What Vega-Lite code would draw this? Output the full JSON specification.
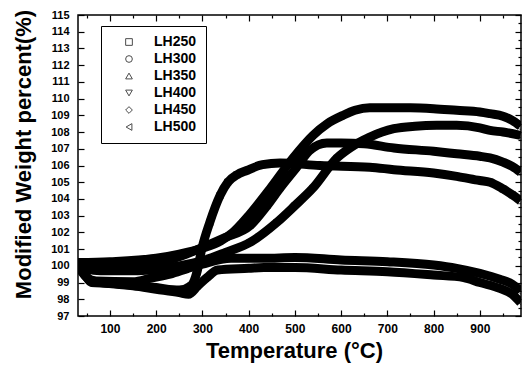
{
  "$schema": "https://vega.github.io/schema/vega-lite/v6.json",
  "width": 443,
  "height": 301,
  "autosize": {"type": "none"},
  "padding": {"left": 78, "top": 15, "right": 7, "bottom": 55},
  "background": "white",
  "config": {
    "font": "Liberation Sans",
    "view": {"stroke": "black", "strokeWidth": 1.5},
    "axis": {"grid": false, "domain": false, "labelColor": "black", "tickColor": "black", "titleColor": "black", "labelFont": "Liberation Sans", "titleFont": "Liberation Sans", "labelFontWeight": "bold", "titleFontWeight": "bold", "tickWidth": 1.2}
  },
  "data": {"values": [
    {"s":"LH250","t":31,"w":100.0},{"s":"LH250","t":45,"w":99.5},{"s":"LH250","t":60,"w":99.1},{"s":"LH250","t":80,"w":99.0},{"s":"LH250","t":150,"w":98.85},{"s":"LH250","t":200,"w":98.7},{"s":"LH250","t":250,"w":98.55},{"s":"LH250","t":275,"w":98.8},{"s":"LH250","t":288,"w":99.6},{"s":"LH250","t":299,"w":101.05},{"s":"LH250","t":316,"w":102.6},{"s":"LH250","t":338,"w":104.2},{"s":"LH250","t":355,"w":105.0},{"s":"LH250","t":375,"w":105.45},{"s":"LH250","t":396,"w":105.7},{"s":"LH250","t":430,"w":106.05},{"s":"LH250","t":468,"w":106.15},{"s":"LH250","t":554,"w":106.0},{"s":"LH250","t":662,"w":105.9},{"s":"LH250","t":714,"w":105.75},{"s":"LH250","t":800,"w":105.55},{"s":"LH250","t":850,"w":105.35},{"s":"LH250","t":900,"w":105.1},{"s":"LH250","t":922,"w":105.0},{"s":"LH250","t":950,"w":104.6},{"s":"LH250","t":970,"w":104.25},{"s":"LH250","t":988,"w":103.9},
    {"s":"LH300","t":31,"w":100.2},{"s":"LH300","t":100,"w":100.25},{"s":"LH300","t":200,"w":100.45},{"s":"LH300","t":250,"w":100.7},{"s":"LH300","t":300,"w":101.05},{"s":"LH300","t":340,"w":101.5},{"s":"LH300","t":366,"w":102.0},{"s":"LH300","t":400,"w":103.0},{"s":"LH300","t":446,"w":104.6},{"s":"LH300","t":496,"w":106.45},{"s":"LH300","t":539,"w":107.8},{"s":"LH300","t":570,"w":108.5},{"s":"LH300","t":604,"w":109.0},{"s":"LH300","t":630,"w":109.3},{"s":"LH300","t":662,"w":109.45},{"s":"LH300","t":700,"w":109.45},{"s":"LH300","t":750,"w":109.45},{"s":"LH300","t":800,"w":109.4},{"s":"LH300","t":850,"w":109.3},{"s":"LH300","t":900,"w":109.2},{"s":"LH300","t":922,"w":109.1},{"s":"LH300","t":950,"w":108.95},{"s":"LH300","t":970,"w":108.7},{"s":"LH300","t":988,"w":108.35},
    {"s":"LH350","t":31,"w":100.0},{"s":"LH350","t":100,"w":100.0},{"s":"LH350","t":200,"w":100.2},{"s":"LH350","t":250,"w":100.55},{"s":"LH350","t":300,"w":101.1},{"s":"LH350","t":350,"w":101.7},{"s":"LH350","t":403,"w":102.4},{"s":"LH350","t":440,"w":103.6},{"s":"LH350","t":468,"w":104.65},{"s":"LH350","t":504,"w":105.9},{"s":"LH350","t":532,"w":106.9},{"s":"LH350","t":569,"w":107.35},{"s":"LH350","t":600,"w":107.35},{"s":"LH350","t":650,"w":107.3},{"s":"LH350","t":714,"w":107.05},{"s":"LH350","t":800,"w":106.85},{"s":"LH350","t":850,"w":106.7},{"s":"LH350","t":900,"w":106.55},{"s":"LH350","t":922,"w":106.45},{"s":"LH350","t":950,"w":106.2},{"s":"LH350","t":970,"w":105.95},{"s":"LH350","t":988,"w":105.6},
    {"s":"LH400","t":31,"w":100.0},{"s":"LH400","t":50,"w":99.8},{"s":"LH400","t":80,"w":99.7},{"s":"LH400","t":150,"w":99.7},{"s":"LH400","t":200,"w":99.8},{"s":"LH400","t":250,"w":100.0},{"s":"LH400","t":300,"w":100.3},{"s":"LH400","t":350,"w":100.8},{"s":"LH400","t":403,"w":101.4},{"s":"LH400","t":461,"w":102.6},{"s":"LH400","t":500,"w":103.6},{"s":"LH400","t":539,"w":104.65},{"s":"LH400","t":591,"w":106.45},{"s":"LH400","t":619,"w":107.05},{"s":"LH400","t":662,"w":107.7},{"s":"LH400","t":714,"w":108.2},{"s":"LH400","t":760,"w":108.35},{"s":"LH400","t":807,"w":108.4},{"s":"LH400","t":850,"w":108.4},{"s":"LH400","t":900,"w":108.25},{"s":"LH400","t":922,"w":108.1},{"s":"LH400","t":950,"w":108.0},{"s":"LH400","t":988,"w":107.8},
    {"s":"LH450","t":31,"w":100.0},{"s":"LH450","t":50,"w":99.3},{"s":"LH450","t":70,"w":99.1},{"s":"LH450","t":150,"w":99.05},{"s":"LH450","t":189,"w":99.27},{"s":"LH450","t":230,"w":99.5},{"s":"LH450","t":269,"w":99.85},{"s":"LH450","t":300,"w":100.1},{"s":"LH450","t":362,"w":100.45},{"s":"LH450","t":433,"w":100.45},{"s":"LH450","t":500,"w":100.5},{"s":"LH450","t":600,"w":100.35},{"s":"LH450","t":700,"w":100.25},{"s":"LH450","t":800,"w":100.05},{"s":"LH450","t":850,"w":99.85},{"s":"LH450","t":900,"w":99.55},{"s":"LH450","t":943,"w":99.2},{"s":"LH450","t":970,"w":98.9},{"s":"LH450","t":988,"w":98.5},
    {"s":"LH500","t":31,"w":100.0},{"s":"LH500","t":45,"w":99.5},{"s":"LH500","t":60,"w":99.0},{"s":"LH500","t":100,"w":98.95},{"s":"LH500","t":150,"w":98.8},{"s":"LH500","t":200,"w":98.6},{"s":"LH500","t":250,"w":98.4},{"s":"LH500","t":270,"w":98.3},{"s":"LH500","t":290,"w":98.8},{"s":"LH500","t":310,"w":99.3},{"s":"LH500","t":333,"w":99.75},{"s":"LH500","t":400,"w":99.85},{"s":"LH500","t":433,"w":99.9},{"s":"LH500","t":500,"w":99.9},{"s":"LH500","t":600,"w":99.75},{"s":"LH500","t":700,"w":99.65},{"s":"LH500","t":800,"w":99.45},{"s":"LH500","t":865,"w":99.3},{"s":"LH500","t":900,"w":99.0},{"s":"LH500","t":943,"w":98.65},{"s":"LH500","t":970,"w":98.3},{"s":"LH500","t":988,"w":97.8}
  ]},
  "layer": [
    {
      "mark": {"type": "point", "filled": false, "color": "black", "size": 40, "strokeWidth": 1, "clip": true},
      "encoding": {
        "x": {"field": "t", "type": "quantitative", "scale": {"domain": [31, 989], "nice": false, "zero": false},
          "axis": {"orient": "bottom", "values": [50,100,150,200,250,300,350,400,450,500,550,600,650,700,750,800,850,900,950],
            "labelExpr": "datum.value % 100 === 0 ? datum.label : ''",
            "tickSize": {"condition": {"test": "datum.value % 100 === 0", "value": -6}, "value": -3},
            "labelPadding": 13, "labelFontSize": 12, "labelFlush": false,
            "title": "Temperature  (°C)", "titleFontSize": 22, "titleX": 216, "titleY": 24, "titleBaseline": "top", "titleAlign": "center", "titleAnchor": "middle"}},
        "y": {"field": "w", "type": "quantitative", "scale": {"domain": [97, 115], "nice": false, "zero": false},
          "axis": {"orient": "left", "values": [97,97.5,98,98.5,99,99.5,100,100.5,101,101.5,102,102.5,103,103.5,104,104.5,105,105.5,106,106.5,107,107.5,108,108.5,109,109.5,110,110.5,111,111.5,112,112.5,113,113.5,114,114.5,115],
            "format": "d",
            "labelExpr": "datum.value % 1 === 0 ? datum.label : ''",
            "tickSize": {"condition": {"test": "datum.value % 1 === 0", "value": -6}, "value": -3},
            "labelPadding": 15, "labelFontSize": 11, "labelFlush": false,
            "title": "Modified Weight percent(%)", "titleFontSize": 22, "titleX": -55, "titleY": 139, "titleAngle": -90, "titleBaseline": "middle", "titleAlign": "center"}},
        "shape": {"field": "s", "type": "nominal",
          "scale": {"domain": ["LH250","LH300","LH350","LH400","LH450","LH500"], "range": ["square","circle","triangle-up","triangle-down","diamond","triangle-left"]},
          "legend": {"orient": "none", "legendX": 23, "legendY": 11, "title": null, "strokeColor": "black", "fillColor": "white",
            "padding": 9, "symbolOffset": 12, "labelOffset": 18, "rowPadding": 3, "labelFontSize": 14, "labelFontWeight": "bold", "labelFont": "Liberation Sans", "labelColor": "black",
            "symbolSize": 45, "symbolStrokeWidth": 1, "symbolStrokeColor": "black", "symbolFillColor": "white"}}
      }
    },
    {
      "mark": {"type": "line", "color": "black", "strokeWidth": 9, "interpolate": "monotone", "strokeJoin": "round", "strokeCap": "butt", "clip": true},
      "encoding": {
        "x": {"field": "t", "type": "quantitative", "scale": {"domain": [31, 989], "nice": false, "zero": false},
          "axis": {"orient": "top", "values": [50,100,150,200,250,300,350,400,450,500,550,600,650,700,750,800,850,900,950], "labels": false, "title": null,
            "tickSize": {"condition": {"test": "datum.value % 100 === 0", "value": -6}, "value": -3}}},
        "y": {"field": "w", "type": "quantitative", "scale": {"domain": [97, 115], "nice": false, "zero": false},
          "axis": {"orient": "right", "values": [97,97.5,98,98.5,99,99.5,100,100.5,101,101.5,102,102.5,103,103.5,104,104.5,105,105.5,106,106.5,107,107.5,108,108.5,109,109.5,110,110.5,111,111.5,112,112.5,113,113.5,114,114.5,115], "labels": false, "title": null,
            "tickSize": {"condition": {"test": "datum.value % 1 === 0", "value": -6}, "value": -3}}},
        "detail": {"field": "s"}
      }
    }
  ],
  "resolve": {"axis": {"x": "independent", "y": "independent"}}
}
